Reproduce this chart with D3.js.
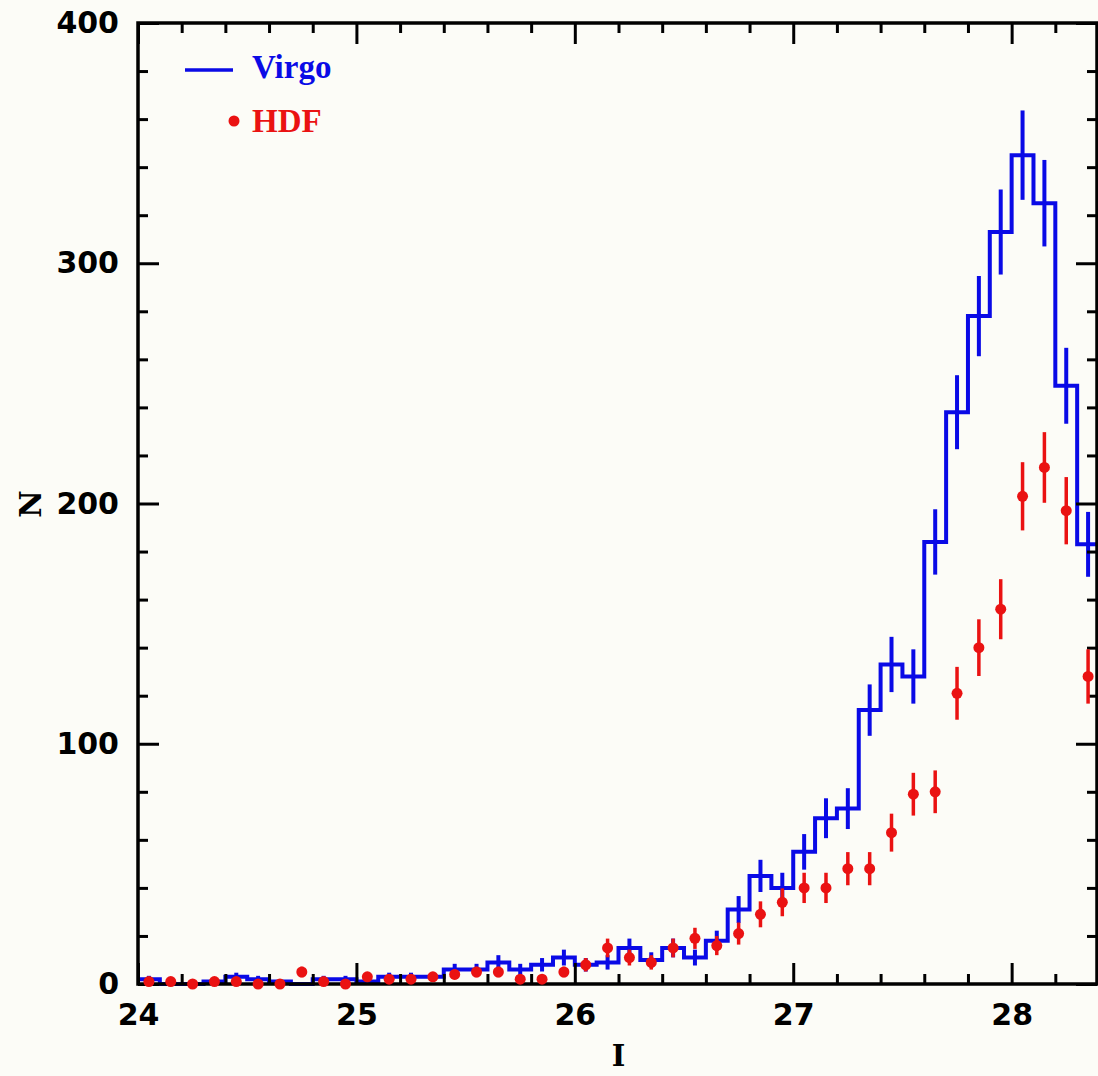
<!DOCTYPE html>
<html>
<head>
<meta charset="utf-8">
<script src="https://cdn.jsdelivr.net/npm/d3@7"></script>
<style>
  html, body { margin: 0; padding: 0; background: #fcfcf7; }
  svg { display: block; }
</style>
</head>
<body>
<svg id="chart" width="1098" height="1076"></svg>
<script>
// Lower edges of the 0.1 mag bins in I
const binLo = [24.0,24.1,24.2,24.3,24.4,24.5,24.6,24.7,24.8,24.9,
               25.0,25.1,25.2,25.3,25.4,25.5,25.6,25.7,25.8,25.9,
               26.0,26.1,26.2,26.3,26.4,26.5,26.6,26.7,26.8,26.9,
               27.0,27.1,27.2,27.3,27.4,27.5,27.6,27.7,27.8,27.9,
               28.0,28.1,28.2,28.3];
const binWidth = 0.1;

// Bin centres, where the error bars and HDF points sit
const binMid = [24.05,24.15,24.25,24.35,24.45,24.55,24.65,24.75,24.85,24.95,
                25.05,25.15,25.25,25.35,25.45,25.55,25.65,25.75,25.85,25.95,
                26.05,26.15,26.25,26.35,26.45,26.55,26.65,26.75,26.85,26.95,
                27.05,27.15,27.25,27.35,27.45,27.55,27.65,27.75,27.85,27.95,
                28.05,28.15,28.25,28.35];

// Virgo counts per bin and their Poisson errors
const virgoN = [2,0,0,1,3,2,1,0,2,2,
                1,3,3,3,6,6,9,6,8,11,
                8,9,15,10,15,11,18,31,45,40,
                55,69,73,114,133,128,184,238,278,313,
                345,325,249,183];
const virgoErr = [1.4,0,0,1,1.7,1.4,1,0,1.4,1.4,
                  1,1.7,1.7,1.7,2.4,2.4,3,2.4,2.8,3.3,
                  2.8,3,3.9,3.2,3.9,3.3,4.2,5.6,6.7,6.3,
                  7.4,8.3,8.5,10.7,11.5,11.3,13.6,15.4,16.7,17.7,
                  18.6,18,15.8,13.5];

// HDF counts per bin and their Poisson errors
const hdfN = [1,1,0,1,1,0,0,5,1,0,
              3,2,2,3,4,5,5,2,2,5,
              8,15,11,9,15,19,16,21,29,34,
              40,40,48,48,63,79,80,121,140,156,
              203,215,197,128];
const hdfErr = [1,1,0,1,1,0,0,2.2,1,0,
                1.7,1.4,1.4,1.7,2,2.2,2.2,1.4,1.4,2.2,
                2.8,3.9,3.3,3,3.9,4.4,4,4.6,5.4,5.8,
                6.3,6.3,6.9,6.9,7.9,8.9,8.9,11,11.8,12.5,
                14.2,14.7,14,11.3];

const xMajorTicks = [24, 25, 26, 27, 28];
const yMajorTicks = [0, 100, 200, 300, 400];
const xDomain = [24, 28.4];
const yDomain = [0, 400];

const legendLabels = ["Virgo", "HDF"];
const xTitle = "I";
const yTitle = "N";

const BLUE = "#0a0ae6";
const RED = "#ea1212";
const INK = "#000";

const svg = d3.select("#chart");
const plotL = 138, plotR = 1099, plotT = 23, plotB = 984;

const x = d3.scaleLinear().domain(xDomain).range([plotL, plotR]);
const y = d3.scaleLinear().domain(yDomain).range([plotB, plotT]);

const xMinorTicks = d3.range(120, 143).map(v => v / 5).filter(v => !Number.isInteger(v));
const yMinorTicks = d3.range(0, 401, 20).filter(v => v % 100 !== 0);

// Histogram outline: one step per bin, running to the upper edge of the last bin
const stepPts = binLo.map((lo, i) => [lo, virgoN[i]]);
stepPts.push([binLo[binLo.length - 1] + binWidth, virgoN[virgoN.length - 1]]);
const stepLine = d3.line()
  .x(d => x(d[0]))
  .y(d => y(d[1]))
  .curve(d3.curveStepAfter);

svg.append("path")
  .datum(stepPts)
  .attr("d", stepLine)
  .attr("fill", "none")
  .attr("stroke", BLUE)
  .attr("stroke-width", 4)
  .attr("stroke-linejoin", "miter");

svg.append("g").selectAll("line")
  .data(binMid.map((m, i) => ({ m, n: virgoN[i], e: virgoErr[i] })).filter(d => d.e > 0))
  .join("line")
  .attr("x1", d => x(d.m)).attr("x2", d => x(d.m))
  .attr("y1", d => y(d.n - d.e)).attr("y2", d => y(d.n + d.e))
  .attr("stroke", BLUE)
  .attr("stroke-width", 4);

// Axes: ticks on all four sides pointing into the frame
function styleAxis(g) {
  g.select(".domain").remove();
  g.selectAll(".tick line").attr("stroke", INK).attr("stroke-width", 3);
  g.selectAll("text")
    .attr("fill", INK)
    .attr("font-family", "'DejaVu Sans', sans-serif")
    .attr("font-weight", "bold")
    .attr("font-size", 30);
}

svg.append("g").attr("transform", `translate(0,${plotB})`)
  .call(d3.axisBottom(x).tickValues(xMinorTicks).tickSize(-10).tickFormat(""))
  .call(styleAxis);
svg.append("g").attr("transform", `translate(0,${plotB})`)
  .call(d3.axisBottom(x).tickValues(xMajorTicks).tickSize(-21).tickPadding(20).tickFormat(d3.format("d")))
  .call(styleAxis);
svg.append("g").attr("transform", `translate(0,${plotT})`)
  .call(d3.axisTop(x).tickValues(xMinorTicks).tickSize(-10).tickFormat(""))
  .call(styleAxis);
svg.append("g").attr("transform", `translate(0,${plotT})`)
  .call(d3.axisTop(x).tickValues(xMajorTicks).tickSize(-21).tickFormat(""))
  .call(styleAxis);

svg.append("g").attr("transform", `translate(${plotL},0)`)
  .call(d3.axisLeft(y).tickValues(yMinorTicks).tickSize(-10).tickFormat(""))
  .call(styleAxis);
svg.append("g").attr("transform", `translate(${plotL},0)`)
  .call(d3.axisLeft(y).tickValues(yMajorTicks).tickSize(-21).tickPadding(19).tickFormat(d3.format("d")))
  .call(styleAxis);
svg.append("g").attr("transform", `translate(${plotR - 2},0)`)
  .call(d3.axisRight(y).tickValues(yMinorTicks).tickSize(-10).tickFormat(""))
  .call(styleAxis);
svg.append("g").attr("transform", `translate(${plotR - 2},0)`)
  .call(d3.axisRight(y).tickValues(yMajorTicks).tickSize(-21).tickFormat(""))
  .call(styleAxis);

// Frame
svg.append("path")
  .attr("d", `M${plotL},${plotT}H${plotR - 2}V${plotB}H${plotL}Z`)
  .attr("fill", "none")
  .attr("stroke", INK)
  .attr("stroke-width", 3.5);

// HDF points with error bars
const hdf = binMid.map((m, i) => ({ m, n: hdfN[i], e: hdfErr[i] }));
svg.append("g").selectAll("line")
  .data(hdf.filter(d => d.e > 0))
  .join("line")
  .attr("x1", d => x(d.m)).attr("x2", d => x(d.m))
  .attr("y1", d => y(d.n - d.e)).attr("y2", d => y(d.n + d.e))
  .attr("stroke", RED)
  .attr("stroke-width", 3.5);
svg.append("g").selectAll("circle")
  .data(hdf)
  .join("circle")
  .attr("cx", d => x(d.m))
  .attr("cy", d => y(d.n))
  .attr("r", 5.5)
  .attr("fill", RED);

// Legend
const legend = svg.append("g")
  .attr("font-family", "'Liberation Serif', serif")
  .attr("font-weight", "bold")
  .attr("font-size", 33);
legend.append("line")
  .attr("x1", 185).attr("x2", 233).attr("y1", 70).attr("y2", 70)
  .attr("stroke", BLUE).attr("stroke-width", 3.5);
legend.append("text")
  .attr("x", 252).attr("y", 78)
  .attr("fill", BLUE)
  .text(legendLabels[0]);
legend.append("circle")
  .attr("cx", 234).attr("cy", 121).attr("r", 5.5)
  .attr("fill", RED);
legend.append("text")
  .attr("x", 252).attr("y", 132)
  .attr("fill", RED)
  .text(legendLabels[1]);

// Axis titles
svg.append("text")
  .attr("x", (plotL + plotR) / 2).attr("y", 1066)
  .attr("text-anchor", "middle")
  .attr("font-family", "'DejaVu Serif', serif")
  .attr("font-weight", "bold")
  .attr("font-size", 29)
  .attr("fill", INK)
  .text(xTitle);
svg.append("text")
  .attr("transform", "translate(30,504) rotate(-90)")
  .attr("text-anchor", "middle")
  .attr("dominant-baseline", "central")
  .attr("font-family", "'DejaVu Serif', serif")
  .attr("font-weight", "bold")
  .attr("font-size", 30)
  .attr("fill", INK)
  .text(yTitle);
</script>
</body>
</html>
